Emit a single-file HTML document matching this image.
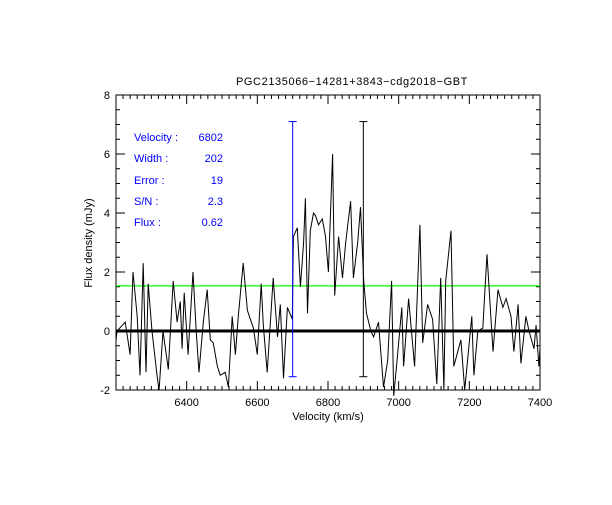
<!DOCTYPE html>
<html><head><meta charset="utf-8"><style>
body{margin:0;background:#fff}
svg text{font-family:"Liberation Sans",sans-serif;font-size:11px}
</style></head><body>
<svg id="chart" width="612" height="500">
<rect x="0" y="0" width="612" height="500" fill="#fff"/>
<g id="axes"></g>
<g id="series"></g>
<text x="352" y="85" text-anchor="middle" font-size="13" letter-spacing="0.6">PGC2135066−14281+3843−cdg2018−GBT</text>
<text x="328" y="420" text-anchor="middle">Velocity (km/s)</text>
<text transform="translate(92,243) rotate(-90)" text-anchor="middle">Flux density (mJy)</text>
<g fill="#0000ff">
<text x="134" y="141">Velocity :</text><text x="223" y="141" text-anchor="end">6802</text>
<text x="134" y="162">Width  :</text><text x="223" y="162" text-anchor="end">202</text>
<text x="134" y="184">Error  :</text><text x="223" y="184" text-anchor="end">19</text>
<text x="134" y="205">S/N  :</text><text x="223" y="205" text-anchor="end">2.3</text>
<text x="134" y="226">Flux   :</text><text x="223" y="226" text-anchor="end">0.62</text>
</g>
</svg>
<script>
const velocities=[6200,6203,6226,6240,6248,6260,6268,6277,6285,6291,6302,6316,6322,6333,6348,6362,6373,6382,6387,6393,6404,6418,6427,6435,6447,6458,6467,6475,6487,6495,6509,6518,6529,6538,6546,6560,6572,6580,6589,6600,6611,6617,6628,6645,6657,6665,6674,6685,6699,6702,6713,6722,6731,6736,6742,6750,6759,6765,6773,6784,6793,6801,6813,6819,6830,6841,6850,6864,6872,6884,6892,6901,6909,6921,6929,6943,6957,6969,6980,6986,6997,7009,7014,7028,7045,7060,7068,7082,7096,7108,7119,7128,7133,7148,7156,7176,7187,7207,7213,7224,7238,7250,7267,7281,7295,7304,7318,7326,7338,7346,7360,7369,7383,7389,7397,7400];
const fluxes=[-0.3,0,0.3,-0.8,2.0,0.5,-1.5,2.3,-1.4,1.6,0,-1.5,-2,0,-1.3,1.7,0.3,1.0,-0.6,1.3,-0.8,2.0,0,-1.4,0.3,1.4,-0.3,-0.4,-1.2,-1.5,-1.4,-1.9,0.5,-0.8,0.5,2.3,0.7,0.4,0.1,-0.8,1.6,0.2,-1.4,1.8,-0.2,0.9,-1.6,0.8,0.4,3.2,3.5,1.5,3.0,4.5,0.6,3.4,4.0,3.9,3.6,3.8,3.2,2.0,6.0,1.2,3.2,1.8,3.0,4.4,1.8,3.0,4.2,1.7,0.6,0.0,-0.2,0.3,-1.9,-1.0,1.7,-2.2,-0.8,0.8,-1.2,1.1,-1.2,3.6,-0.4,0.9,0.4,-1.8,1.8,-2,1.7,3.4,-1.2,-0.3,-2,0.5,-1.5,0,0.1,2.6,-0.7,1.4,0.8,1.1,0.5,-0.7,0.9,-1.1,0.5,0,-0.6,0.2,-1.2,-0.6];
const xTicks=[6400,6600,6800,7000,7200,7400];
const yTicks=[-2,0,2,4,6,8];
const markerVel=[6700,6900];
const rmsLevel=[1.53];
const X0=116,X1=540,Y0=95,Y1=390,VMIN=6200,VMAX=7400,FMIN=-2,FMAX=8;
const xs=v=>X0+(v-VMIN)/(VMAX-VMIN)*(X1-X0);
const ys=f=>Y1-(f-FMIN)/(FMAX-FMIN)*(Y1-Y0);
const NS='http://www.w3.org/2000/svg';
function mk(t,a,p){const e=document.createElementNS(NS,t);for(const k in a)e.setAttribute(k,a[k]);p.appendChild(e);return e;}
const ax=document.getElementById('axes'),se=document.getElementById('series');
const frame=mk('rect',{x:X0,y:Y0,width:X1-X0,height:Y1-Y0,fill:'none',stroke:'#000','stroke-width':1},ax);


for(let v=VMIN;v<=VMAX;v+=20){const x=xs(v),big=(v%200===0);
mk('line',{x1:x,x2:x,y1:Y1,y2:Y1-(big?9:4),stroke:'#000'},ax);mk('line',{x1:x,x2:x,y1:Y0,y2:Y0+(big?9:4),stroke:'#000'},ax);}
for(let f=FMIN;f<=FMAX;f+=0.5){const y=ys(f),big=(f%2===0);
mk('line',{x1:X0,x2:X0+(big?9:4),y1:y,y2:y,stroke:'#000'},ax);mk('line',{x1:X1,x2:X1-(big?9:4),y1:y,y2:y,stroke:'#000'},ax);}
xTicks.forEach(v=>{const t=mk('text',{x:xs(v),y:Y1+16,'text-anchor':'middle'},ax);t.textContent=v;

});
yTicks.forEach(f=>{const t=mk('text',{x:X0-6,y:ys(f)+4,'text-anchor':'end'},ax);t.textContent=f;

});
const zl=mk('line',{x1:X0,x2:X1,y1:ys(0),y2:ys(0),stroke:'#000','stroke-width':3},se);


const gl=mk('line',{x1:X0,x2:X1,y1:ys(rmsLevel[0]),y2:ys(rmsLevel[0]),stroke:'#00ff00','stroke-width':1.2},se);


const pl=mk('polyline',{points:velocities.map((v,i)=>xs(v).toFixed(1)+','+ys(fluxes[i]).toFixed(1)).join(' '),fill:'none',stroke:'#000','stroke-width':1},se);


markerVel.forEach((v,i)=>{const c=i===0?'#0000ff':'#000';const g=mk('g',{stroke:c},se);


const x=xs(v),yt=ys(7.1),yb=ys(-1.55);
mk('line',{x1:x,x2:x,y1:yt,y2:yb},g);mk('line',{x1:x-4,x2:x+4,y1:yt,y2:yt},g);mk('line',{x1:x-4,x2:x+4,y1:yb,y2:yb},g);});
</script>
</body></html>
